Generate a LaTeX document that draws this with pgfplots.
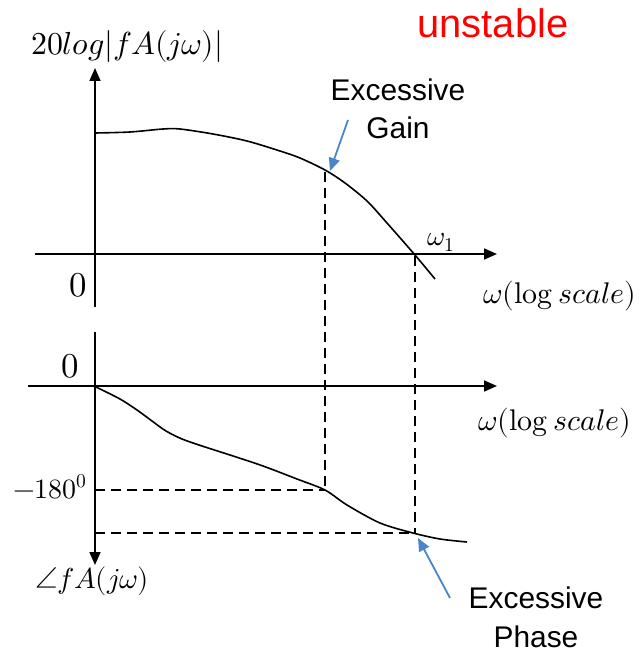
\documentclass[border=0pt]{standalone}
\usepackage{fontspec}
\usepackage{unicode-math}
\setmainfont{Liberation Sans}
\setmathfont{Latin Modern Math}
\usepackage{pgfplots}
\pgfplotsset{compat=1.18}
\usetikzlibrary{arrows.meta}
\definecolor{arrowblue}{RGB}{74,134,200}
\begin{document}
\begin{tikzpicture}
\begin{axis}[scale only axis, width=643bp, height=653bp,
  xmin=0, xmax=643, ymin=0, ymax=653, y dir=reverse,
  axis lines=none, clip=false]
\addplot[draw=none] coordinates {(0,0) (643,653)};
% axes
\addplot[black, line width=1.6bp, -{Triangle[length=13bp,width=11bp]}] coordinates {(95,307) (95,68)};
\addplot[black, line width=1.6bp, -{Triangle[length=13bp,width=11bp]}] coordinates {(35,254) (497,254)};
\addplot[black, line width=1.6bp, -{Triangle[length=13bp,width=11bp]}] coordinates {(28,386) (497,386)};
\addplot[black, line width=1.6bp, -{Triangle[length=13bp,width=11bp]}] coordinates {(95,332) (95,565)};
% magnitude curve
\addplot[black, line width=1.6bp, smooth] coordinates {
(95,133) (130,132) (163,129) (180,129) (213,134) (247,141) (280,151)
(300,158) (325,170) (345,183) (367,201) (387,223) (415,255) (435,279)};
% phase curve
\addplot[black, line width=1.6bp, smooth] coordinates {
(96,387) (120,399) (137,410) (152,421) (166,431) (182,439) (202,446) (230,455)
(263,466) (297,479) (325,490) (347,505) (380,523) (413,533) (440,539) (467,542)};
% dashed guides
\addplot[black, line width=1.6bp, dash pattern=on 10bp off 6bp] coordinates {(325,172) (325,490)};
\addplot[black, line width=1.6bp, dash pattern=on 10bp off 6bp] coordinates {(415,256) (415,533)};
\addplot[black, line width=1.6bp, dash pattern=on 10bp off 6bp] coordinates {(95,490) (325,490)};
\addplot[black, line width=1.6bp, dash pattern=on 10bp off 6bp] coordinates {(95,533) (415,533)};
% blue arrows
\addplot[arrowblue, line width=1.8bp, -{Triangle[length=13bp,width=11bp]}] coordinates {(348,120) (330,171)};
\addplot[arrowblue, line width=1.8bp, -{Triangle[length=13bp,width=11bp]}] coordinates {(450,598) (418,538)};
% texts
\node[anchor=base, text=red, font=\fontsize{40}{48}\selectfont] at (axis cs:493,38) {unstable};
\node[anchor=base, font=\fontsize{30}{36}\selectfont] at (axis cs:398,100) {Excessive};
\node[anchor=base, font=\fontsize{30}{36}\selectfont] at (axis cs:398,138) {Gain};
\node[anchor=base, font=\fontsize{30}{36}\selectfont] at (axis cs:536,608) {Excessive};
\node[anchor=base, font=\fontsize{30}{36}\selectfont] at (axis cs:536,647) {Phase};
\node[anchor=base, font=\fontsize{32}{38}\selectfont] at (axis cs:127,55) {$20log|fA(j\omega)|$};
\node[anchor=base, font=\fontsize{35}{42}\selectfont] at (axis cs:78,296) {$0$};
\node[anchor=base, font=\fontsize{35}{42}\selectfont] at (axis cs:70,377) {$0$};
\node[anchor=base, font=\fontsize{28}{34}\selectfont] at (axis cs:50,498) {$-180^0$};
\node[anchor=base, font=\fontsize{28}{34}\selectfont] at (axis cs:441,245) {$\omega_1$};
\node[anchor=base, font=\fontsize{30}{36}\selectfont] at (axis cs:560,303) {$\omega(\symup{log}\,scale)$};
\node[anchor=base, font=\fontsize{30}{36}\selectfont] at (axis cs:555,430) {$\omega(\symup{log}\,scale)$};
\node[anchor=base, font=\fontsize{29}{34}\selectfont] at (axis cs:92,588) {$\angle fA(j\omega)$};
\end{axis}
\end{tikzpicture}
\end{document}
